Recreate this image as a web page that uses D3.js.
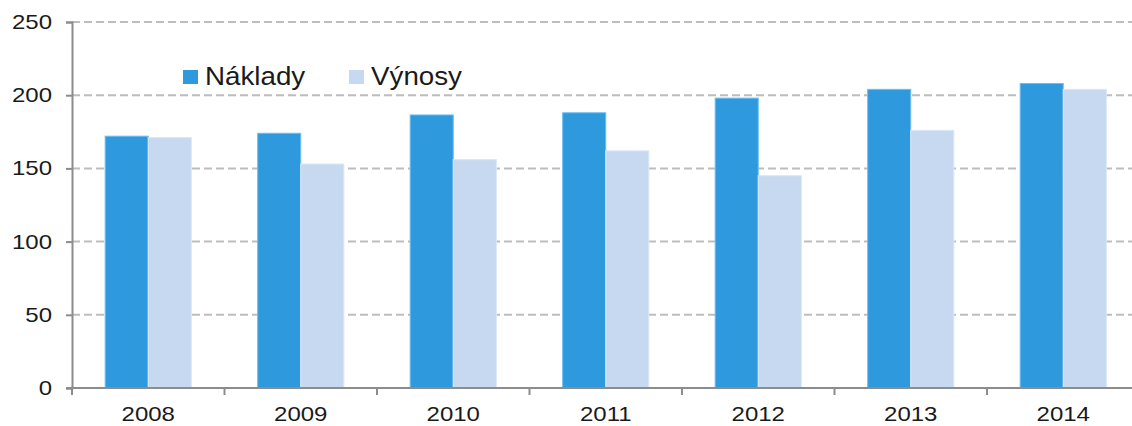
<!DOCTYPE html>
<html>
<head>
<meta charset="utf-8">
<script src="https://cdn.jsdelivr.net/npm/d3@7"></script>
<style>
    body { margin: 0; background: #fff; }
    text { font-family: "Liberation Sans", Arial, sans-serif; fill: #1a1a1a; }
</style>
</head>
<body>
<svg id="viz"></svg>
<script>
(function () {
    let years = ['2008', '2009', '2010', '2011', '2012', '2013', '2014']
    let seriesNames = ['Náklady', 'Výnosy']
    let naklady = [172, 174, 186.5, 188, 198, 204, 208]
    let vynosy = [171, 153, 156, 162, 145, 176, 204]
    let yTicks = [0, 50, 100, 150, 200, 250]
    let colors = ['#2e9add', '#c6d9f0']

    let config = {
        width: 1132,
        height: 426,
        left: 72,
        right: 1139.5,
        top: 22,
        bottom: 388,
        stretch: 1.2
    }

    let svg = d3.select('#viz')
        .attr('width', config.width)
        .attr('height', config.height)

    let xScale = d3.scaleBand()
        .domain(years)
        .range([config.left, config.right])
        .paddingInner(0)
    let inner = d3.scaleBand()
        .domain(seriesNames)
        .range([0, xScale.bandwidth()])
        .paddingOuter(0.77)
        .paddingInner(0)
    let yScale = d3.scaleLinear()
        .domain([0, 250])
        .range([config.bottom, config.top])

    // grid
    svg.append('g')
        .selectAll('line')
        .data(yTicks.filter(d => d > 0))
        .join('line')
        .attr('x1', config.left)
        .attr('x2', config.width)
        .attr('y1', d => yScale(d))
        .attr('y2', d => yScale(d))
        .attr('stroke', '#bdbdbd')
        .attr('stroke-width', 2)
        .attr('stroke-dasharray', '8,4')

    // bars
    let rows = years.map((y, i) => ({ year: y, values: [naklady[i], vynosy[i]] }))
    let gBars = svg.append('g')
    rows.forEach(r => {
        r.values.forEach((v, si) => {
            gBars.append('rect')
                .attr('x', xScale(r.year) + inner(seriesNames[si]))
                .attr('y', yScale(v))
                .attr('width', inner.bandwidth())
                .attr('height', config.bottom - yScale(v))
                .attr('fill', colors[si])
                .attr('stroke', si === 0 ? '#6fbdf0' : '#dbe7f6')
                .attr('stroke-width', 1)
        })
    })

    // y axis
    let yAxis = svg.append('g')
        .attr('transform', 'translate(' + config.left + ',0)')
        .call(d3.axisLeft(yScale).tickValues(yTicks).tickSize(6))
    yAxis.select('.domain').attr('stroke', '#8c8c8c').attr('stroke-width', 2)
    yAxis.selectAll('.tick line').attr('stroke', '#8c8c8c').attr('stroke-width', 2)
    yAxis.selectAll('text')
        .attr('x', -20 / config.stretch)
        .attr('transform', 'scale(' + config.stretch + ',1)')
        .attr('font-size', 20)
        .attr('fill', '#1a1a1a')
        .style('font-family', '"Liberation Sans", Arial, sans-serif')

    // x axis
    let xAxis = svg.append('g')
        .attr('transform', 'translate(0,' + config.bottom + ')')
    xAxis.append('line')
        .attr('x1', config.left - 6)
        .attr('x2', config.width)
        .attr('stroke', '#8c8c8c')
        .attr('stroke-width', 2)
    xAxis.selectAll('.sep')
        .data(years)
        .join('line')
        .attr('class', 'sep')
        .attr('x1', d => xScale(d))
        .attr('x2', d => xScale(d))
        .attr('y1', 0)
        .attr('y2', 7)
        .attr('stroke', '#8c8c8c')
        .attr('stroke-width', 2)
    xAxis.selectAll('.lbl')
        .data(years)
        .join('text')
        .attr('class', 'lbl')
        .attr('transform', d => 'translate(' + (xScale(d) + xScale.bandwidth() / 2) + ',33) scale(' + config.stretch + ',1)')
        .attr('text-anchor', 'middle')
        .attr('font-size', 20)
        .text(d => d)

    // legend
    let legendX = [183, 349]
    let gLegend = svg.append('g')
    seriesNames.forEach((name, i) => {
        gLegend.append('rect')
            .attr('x', legendX[i])
            .attr('y', 70)
            .attr('width', 15)
            .attr('height', 14)
            .attr('fill', colors[i])
        gLegend.append('text')
            .attr('transform', 'translate(' + (legendX[i] + 22) + ',85) scale(1.11,1)')
            .attr('font-size', 25)
            .text(name)
    })
})()
</script>
</body>
</html>
